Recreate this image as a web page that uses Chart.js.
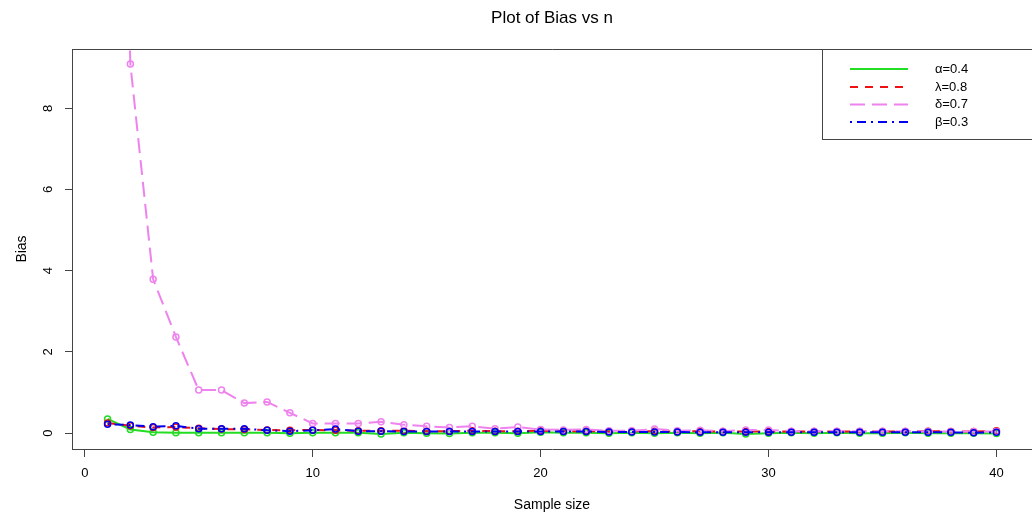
<!DOCTYPE html>
<html><head><meta charset="utf-8">
<script src="https://cdn.jsdelivr.net/npm/chart.js@4/dist/chart.umd.min.js"></script>
<style>html,body{margin:0;padding:0;background:#fff}#wrap{width:1032px;height:516px}</style>
</head><body><div id="wrap"><canvas id="c" width="1032" height="516"></canvas></div>
<script>
const sampleSizes = [1,2,3,4,5,6,7,8,9,10,11,12,13,14,15,16,17,18,19,20,21,22,23,24,25,26,27,28,29,30,31,32,33,34,35,36,37,38,39,40];
const alphaBias = [0.35,0.09,0.02,0.01,0.01,0.01,0.01,0.01,0.00,0.01,0.01,0.01,-0.02,0.01,0.00,-0.01,0.01,0.01,0.00,0.02,0.01,0.01,0.00,0.01,0.00,0.01,0.00,0.01,-0.02,0.00,0.01,0.00,0.01,0.00,0.00,0.01,0.00,0.00,0.00,-0.01];
const lambdaBias = [0.25,0.18,0.14,0.15,0.12,0.10,0.09,0.08,0.07,0.08,0.07,0.06,0.06,0.06,0.05,0.05,0.06,0.05,0.05,0.06,0.05,0.05,0.04,0.05,0.05,0.04,0.05,0.04,0.04,0.04,0.04,0.04,0.04,0.04,0.04,0.04,0.05,0.04,0.04,0.06];
const deltaBias = [30,9.09,3.79,2.37,1.06,1.06,0.74,0.77,0.50,0.24,0.24,0.24,0.28,0.21,0.17,0.14,0.17,0.11,0.15,0.09,0.08,0.09,0.06,0.06,0.10,0.06,0.07,0.05,0.08,0.08,0.05,0.05,0.05,0.05,0.05,0.05,0.04,0.04,0.04,0.04];
const betaBias = [0.22,0.20,0.16,0.18,0.11,0.11,0.11,0.07,0.05,0.07,0.10,0.05,0.05,0.04,0.04,0.04,0.04,0.04,0.04,0.04,0.04,0.04,0.03,0.03,0.03,0.03,0.02,0.02,0.02,0.02,0.02,0.02,0.02,0.02,0.02,0.02,0.02,0.02,0.01,0.02];
const xTicks = [0,10,20,30,40];
const yTicks = [0,2,4,6,8];
const legendLabels = ['α=0.4','λ=0.8','δ=0.7','β=0.3'];
const titleText = 'Plot of Bias vs n';

const FONT = 'Liberation Sans, Arial, sans-serif';
const AXIS = '#444';
const colors = ['#22dd22','#ee1111','#ee82ee','#0000ee'];
const dashes = [[],[8,7],[15,7],[2,5,9,5]];
const series = [alphaBias, lambdaBias, deltaBias, betaBias];

const datasets = series.map((vals,i)=>({
  label: legendLabels[i],
  data: sampleSizes.map((n,j)=>({x:n,y:vals[j]})),
  borderColor: colors[i],
  borderWidth: 2,
  borderDash: dashes[i],
  pointStyle: 'circle',
  pointRadius: 3,
  pointHoverRadius: 3,
  pointBorderWidth: 1.5,
  pointBorderColor: colors[i],
  pointBackgroundColor: 'rgba(0,0,0,0)',
  fill: false,
  tension: 0,
  order: [3,2,1,0][i]
}));

const decor = {
  id: 'decor',
  afterDraw(chart){
    const {ctx, chartArea:a} = chart;
    ctx.save();
    ctx.strokeStyle = AXIS; ctx.lineWidth = 1;
    ctx.beginPath();
    ctx.moveTo(a.left+0.5, a.bottom+0.5); ctx.lineTo(a.left+0.5, a.top+0.5); ctx.lineTo(a.right+2, a.top+0.5);
    ctx.stroke();
    // title
    ctx.fillStyle = '#000';
    ctx.font = '17px ' + FONT;
    ctx.textAlign = 'center'; ctx.textBaseline = 'middle';
    ctx.fillText(titleText, (a.left+a.right)/2, 18);
    // legend
    const lx = 822.5, ly = a.top+0.5, lh = 90;
    ctx.fillStyle = '#fff';
    ctx.fillRect(lx, ly, 1100-lx, lh);
    ctx.strokeStyle = AXIS;
    ctx.strokeRect(lx, ly, 1100-lx, lh);
    const rows = [69,87,104.5,122];
    ctx.font = '13px ' + FONT;
    ctx.textAlign = 'left';
    legendLabels.forEach((t,i)=>{
      ctx.strokeStyle = colors[i]; ctx.lineWidth = 2;
      ctx.setLineDash(dashes[i]);
      ctx.beginPath(); ctx.moveTo(850, rows[i]); ctx.lineTo(908, rows[i]); ctx.stroke();
      ctx.setLineDash([]);
      ctx.fillStyle = '#000';
      ctx.fillText(t, 935, rows[i]);
    });
    ctx.restore();
  }
};

new Chart(document.getElementById('c'), {
  type: 'line',
  data: { datasets },
  plugins: [decor],
  options: {
    responsive: false,
    animation: false,
    layout: { autoPadding: false, padding: { top: 49, left: 0, right: 0, bottom: 0 } },
    plugins: { legend: { display: false }, tooltip: { enabled: false }, title: { display: false } },
    scales: {
      x: {
        type: 'linear', position: 'bottom', min: -0.56, max: 41.56,
        afterFit(s){ s.height = 67; s.paddingLeft = 0; s.paddingRight = 0; },
        afterBuildTicks(s){ s.ticks = xTicks.map(v=>({value:v})); },
        ticks: { font: { family: FONT, size: 13 }, color: '#000', padding: 9, maxRotation: 0, autoSkip: false },
        grid: { drawOnChartArea: false, drawTicks: true, tickLength: 8, color: AXIS, lineWidth: 1 },
        border: { display: true, color: AXIS, width: 1 },
        title: { display: true, text: 'Sample size', color: '#000', font: { family: FONT, size: 14 }, padding: { top: 0, bottom: 2 } }
      },
      y: {
        type: 'linear', position: 'left', min: -0.39, max: 9.46,
        afterFit(s){ s.width = 72; s.paddingTop = 0; s.paddingBottom = 0; },
        afterBuildTicks(s){ s.ticks = yTicks.map(v=>({value:v})); },
        ticks: { font: { family: FONT, size: 13 }, color: '#000', padding: 13, minRotation: 90, maxRotation: 90, crossAlign: 'center', autoSkip: false },
        grid: { drawOnChartArea: false, drawTicks: true, tickLength: 7, color: AXIS, lineWidth: 1 },
        border: { display: true, color: AXIS, width: 1 },
        title: { display: true, text: 'Bias', color: '#000', font: { family: FONT, size: 14 }, padding: { top: 13.6, bottom: 0 } }
      }
    }
  }
});
</script></body></html>
